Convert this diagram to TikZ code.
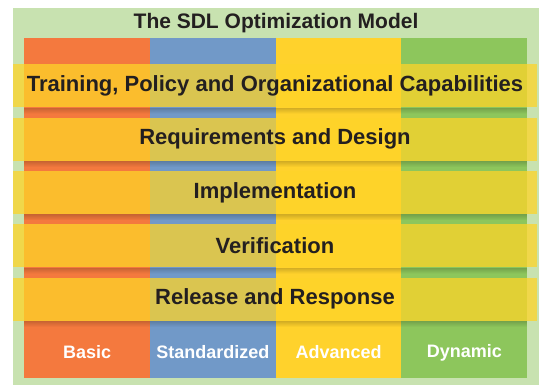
\documentclass[tikz,border=0pt]{standalone}
\usepackage{fontspec}
\setmainfont{Liberation Sans}
\usetikzlibrary{positioning,fadings}
\definecolor{panelgreen}{RGB}{200,226,176}
\definecolor{basicor}{RGB}{244,121,62}
\definecolor{stdblue}{RGB}{113,153,200}
\definecolor{advyel}{RGB}{255,210,44}
\definecolor{dyngreen}{RGB}{141,198,92}
\definecolor{bandyel}{RGB}{254,212,40}
\definecolor{inkdark}{RGB}{35,31,32}
\tikzset{
	column/.style={fill=#1, draw=none, inner sep=0pt, anchor=north west,
		minimum width=125.75pt, minimum height=340pt},
	band/.style={fill=bandyel, fill opacity=0.75, text opacity=1, inner sep=0pt,
		minimum width=524pt, minimum height=43pt, text=inkdark,
		font=\fontsize{22}{22}\selectfont\bfseries},
	bandshade/.style={fill=black, fill opacity=0.18, path fading=south},
	levellabel/.style={text=white, font=\fontsize{18}{18}\selectfont\bfseries},
}

\begin{document}
\begin{tikzpicture}[x=1pt, y=-1pt]

	\useasboundingbox[fill=white] (0,0) rectangle (544,385);

	\pgfmathsetmacro\colw{125.75};
	\pgfmathsetmacro\bandgap{53.3};
	% panel and title
	\node[fill=panelgreen, inner sep=0pt, anchor=north west,
		minimum width=526pt, minimum height=377pt] (panel) at (13,8) {};
	\node[text=inkdark, font=\fontsize{21}{21}\selectfont\bfseries] (title) at (276,23) {The SDL Optimization Model};

	% maturity columns
	\foreach \col/\lab [count=\i from 0] in {basicor/Basic, stdblue/Standardized, advyel/Advanced, dyngreen/Dynamic} {
		\node[column=\col] (c\i) at ({24+\i*\colw},38) {};
		\node[levellabel] (l\i) at ([yshift=26pt]c\i.south) {\lab};
	}

	% capability bands, with a soft shade underneath
	\foreach \txt [count=\j from 0] in {{Training, Policy and Organizational Capabilities}, {Requirements and Design}, {Implementation}, {Verification}, {Release and Response}} {
		\node[band] (b\j) at (275,{86+\j*\bandgap}) {\txt};
		\fill[bandshade] ([xshift=11pt]b\j.south west) rectangle ([xshift=-10pt,yshift=-6pt]b\j.south east);
	}

\end{tikzpicture}
\end{document}
